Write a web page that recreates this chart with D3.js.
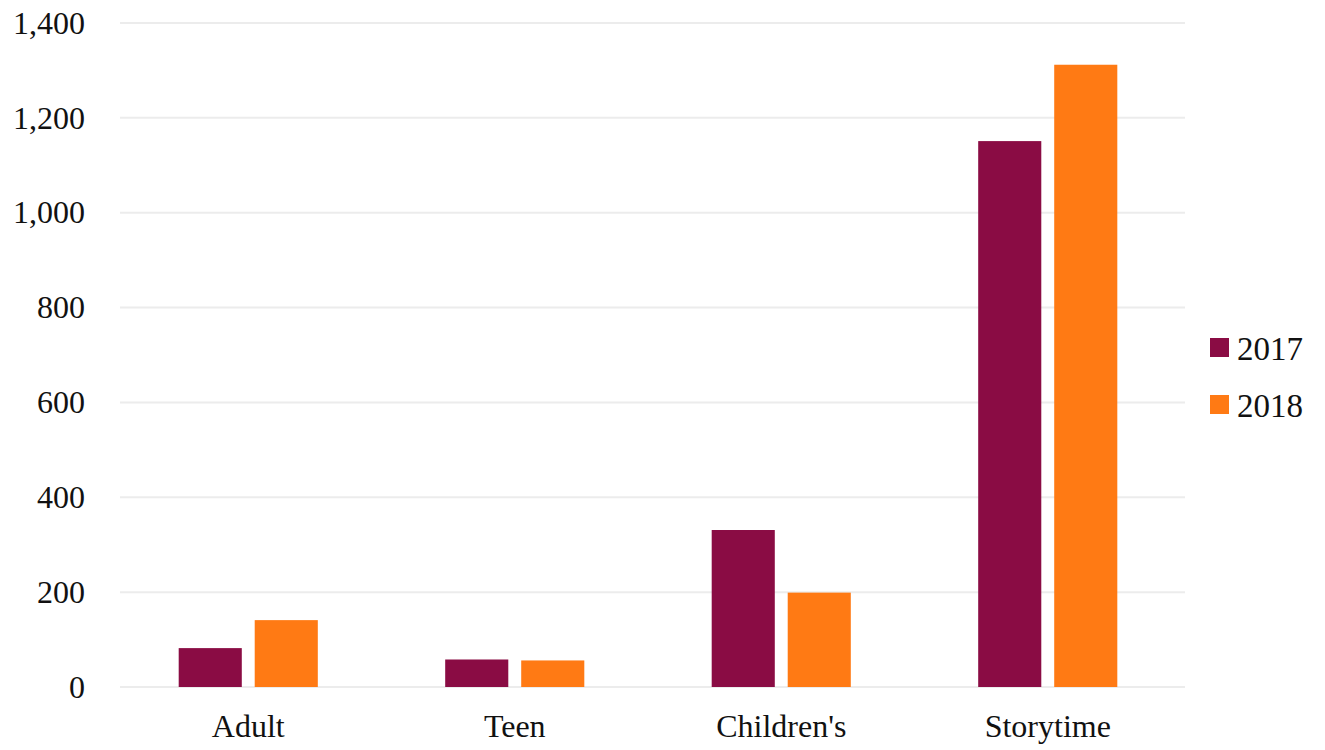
<!DOCTYPE html>
<html>
<head>
<meta charset="utf-8">
<script src="https://cdn.jsdelivr.net/npm/d3@7"></script>
<style>
  body { margin: 0; background: #fff; }
  svg { display: block; }
  .grid line { stroke: #ececec; stroke-width: 2; }
  .axis text { fill: #111; font-family: 'Liberation Serif', serif; font-size: 32px; }
  .legend text { fill: #111; font-family: 'Liberation Serif', serif; font-size: 33px; }
</style>
</head>
<body>
<svg></svg>
<script>
var categories = ['Adult', 'Teen', "Children's", 'Storytime'];
var years = ['2017', '2018'];
var values2017 = [82, 58, 331, 1151];
var values2018 = [141, 56, 199, 1312];
var yTicks = [0, 200, 400, 600, 800, 1000, 1200, 1400];
var colors = ['#8a0c44', '#ff7a14'];

var width = 1325;
var height = 750;
var plot = { left: 120, right: 1185, top: 23, bottom: 687 };

var svg = d3.select('svg')
  .attr('width', width)
  .attr('height', height);

var rows = categories.map(function(c, i) {
  return { category: c, values: [values2017[i], values2018[i]] };
});

// bar groups sit slightly left of the gridline span in the original
var x0 = d3.scaleBand()
  .domain(categories)
  .range([plot.left - 5, plot.right - 4])
  .paddingInner(0.478)
  .paddingOuter(0.239);

var x1 = d3.scaleBand()
  .domain(years)
  .range([0, x0.bandwidth()])
  .paddingInner(0.17);

var y = d3.scaleLinear()
  .domain([0, 1400])
  .range([plot.bottom, plot.top]);

var color = d3.scaleOrdinal()
  .domain(years)
  .range(colors);

// gridlines
svg.append('g')
  .attr('class', 'grid')
  .selectAll('line')
  .data(yTicks)
  .enter().append('line')
  .attr('x1', plot.left)
  .attr('x2', plot.right)
  .attr('y1', function(d) { return y(d); })
  .attr('y2', function(d) { return y(d); });

// bars
var groups = svg.append('g')
  .selectAll('g')
  .data(rows)
  .enter().append('g')
  .attr('transform', function(d) { return 'translate(' + x0(d.category) + ',0)'; });

groups.selectAll('rect')
  .data(function(d) {
    return years.map(function(yr, i) { return { year: yr, value: d.values[i] }; });
  })
  .enter().append('rect')
  .attr('x', function(d) { return x1(d.year); })
  .attr('y', function(d) { return y(d.value); })
  .attr('width', x1.bandwidth())
  .attr('height', function(d) { return y(0) - y(d.value); })
  .attr('fill', function(d) { return color(d.year); });

// y axis
var yAxis = d3.axisLeft(y)
  .tickValues(yTicks)
  .tickSize(0)
  .tickPadding(0)
  .tickFormat(d3.format(','));

svg.append('g')
  .attr('class', 'axis y-axis')
  .attr('transform', 'translate(85,0)')
  .call(yAxis)
  .call(function(g) { g.select('.domain').remove(); })
  .selectAll('text')
  .attr('dy', '0.32em');

// x axis
var xAxis = d3.axisBottom(x0)
  .tickSize(0)
  .tickPadding(0);

svg.append('g')
  .attr('class', 'axis x-axis')
  .attr('transform', 'translate(0,' + 714 + ')')
  .call(xAxis)
  .call(function(g) { g.select('.domain').remove(); });

// legend
var legend = svg.append('g')
  .attr('class', 'legend')
  .selectAll('g')
  .data(years)
  .enter().append('g')
  .attr('transform', function(d, i) { return 'translate(1210,' + (338 + i * 57) + ')'; });

legend.append('rect')
  .attr('width', 19)
  .attr('height', 19)
  .attr('fill', function(d) { return color(d); });

legend.append('text')
  .attr('x', 27)
  .attr('y', 10)
  .attr('dy', '0.35em')
  .text(function(d) { return d; });
</script>
</body>
</html>
